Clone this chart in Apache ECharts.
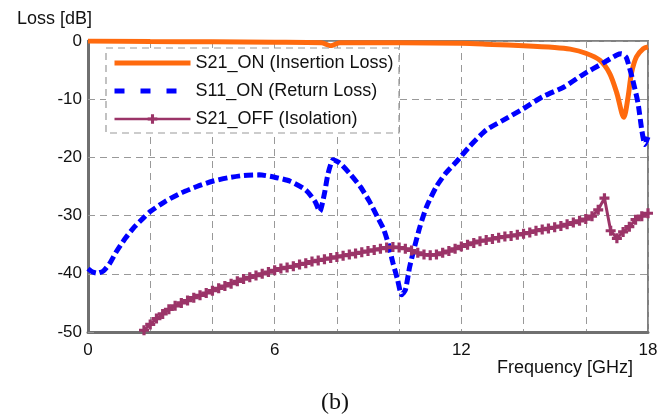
<!DOCTYPE html>
<html>
<head>
<meta charset="utf-8">
<script src="https://cdn.jsdelivr.net/npm/echarts@6/dist/echarts.min.js"></script>
<style>
  html, body { margin: 0; padding: 0; background: #fff; }
  #chart { width: 670px; height: 415px; }
</style>
</head>
<body>
<div id="chart"></div>
<script>
// values: [GHz, dB]
const s21On = [
  [0, 0], [2, -0.1], [4, -0.15], [6, -0.2], [7.5, -0.3], [7.8, -0.8], [8.1, -0.3],
  [10, -0.3], [12, -0.4], [13, -0.6], [14, -0.8], [15, -1.1], [15.5, -1.4],
  [16, -2.1], [16.45, -3.3], [16.77, -5.6], [17, -9], [17.22, -13.1], [17.36, -9.6],
  [17.47, -5.5], [17.63, -2.7], [17.85, -1.3], [18, -1.0]
];
const s11On = [
  [0, -39.1], [0.15, -39.7], [0.3, -39.9], [0.5, -39.5], [0.7, -38.2], [0.9, -36.3],
  [1.2, -33.9], [1.5, -31.9], [1.8, -30.3], [2.0, -29.3], [2.5, -27.5], [3.0, -26.1],
  [3.5, -25.0], [4.0, -24.1], [4.5, -23.5], [5.0, -23.1], [5.5, -23.0], [6.0, -23.4],
  [6.5, -24.1], [7.0, -25.6], [7.3, -27.6], [7.45, -29.3], [7.6, -26.2], [7.72, -22.7],
  [7.88, -20.4], [8.1, -21.0], [8.4, -22.7], [8.75, -25.0], [9.05, -27.6], [9.3, -30.2],
  [9.5, -32.3], [9.65, -34.8], [9.8, -38.1], [9.95, -41.0], [10.08, -43.6], [10.2, -42.8],
  [10.34, -38.8], [10.5, -35.3], [10.67, -31.9], [10.88, -28.5], [11.2, -25.0],
  [11.5, -22.7], [11.85, -20.7], [12.25, -18.2], [12.8, -15.3], [13.35, -13.6],
  [14.0, -11.6], [14.6, -9.6], [15.3, -7.9], [15.9, -5.8], [16.55, -3.8], [17.0, -2.4],
  [17.15, -2.2], [17.3, -2.8], [17.5, -6.5], [17.68, -10.7], [17.8, -15.3],
  [17.9, -17.8], [18.0, -16.5]
];
const s21Off = [
  [1.8, -49.7], [2.0, -48.7], [2.2, -47.7], [2.4, -46.9], [2.6, -46.1], [2.8, -45.5],
  [3.0, -45.0], [3.2, -44.6], [3.4, -44.1], [3.6, -43.7], [3.8, -43.3], [4.0, -42.9],
  [4.2, -42.5], [4.4, -42.1], [4.6, -41.7], [4.8, -41.3], [5.0, -40.9], [5.2, -40.6],
  [5.4, -40.3], [5.6, -40.0], [5.8, -39.7], [6.0, -39.4], [6.2, -39.1], [6.4, -38.9],
  [6.6, -38.7], [6.8, -38.4], [7.0, -38.2], [7.2, -37.9], [7.4, -37.7], [7.6, -37.5],
  [7.8, -37.3], [8.0, -37.1], [8.2, -36.9], [8.4, -36.7], [8.6, -36.5], [8.8, -36.3],
  [9.0, -36.1], [9.2, -35.9], [9.4, -35.7], [9.6, -35.5], [9.8, -35.4], [10.0, -35.5],
  [10.2, -35.7], [10.4, -36.0], [10.6, -36.4], [10.8, -36.7], [11.0, -36.8], [11.2, -36.7],
  [11.4, -36.4], [11.6, -36.1], [11.8, -35.7], [12.0, -35.3], [12.2, -35.0], [12.4, -34.7],
  [12.6, -34.4], [12.8, -34.2], [13.0, -34.0], [13.2, -33.8], [13.4, -33.6], [13.6, -33.5],
  [13.8, -33.3], [14.0, -33.1], [14.2, -32.9], [14.4, -32.6], [14.6, -32.4], [14.8, -32.2],
  [15.0, -32.0], [15.2, -31.8], [15.4, -31.5], [15.6, -31.2], [15.8, -30.9], [16.0, -30.6],
  [16.2, -30.1], [16.4, -29.0], [16.6, -27.0], [16.8, -32.6], [17.0, -33.9], [17.2, -32.8],
  [17.4, -31.9], [17.6, -30.7], [17.8, -30.1], [18.0, -29.6]
];
const seriesNames = ['S21_ON (Insertion Loss)', 'S11_ON (Return Loss)', 'S21_OFF (Isolation)'];
const xLabels = [0, 6, 12, 18];

const font = 'Liberation Sans, Arial, sans-serif';
const plus = 'path://M3.4,0 H6.6 V3.4 H10 V6.6 H6.6 V10 H3.4 V6.6 H0 V3.4 H3.4 Z';

const chart = echarts.init(document.getElementById('chart'));
chart.setOption({
  animation: false,
  title: {
    text: '(b)',
    left: 'center',
    top: 386,
    textStyle: { fontFamily: 'Liberation Serif, Times New Roman, serif', fontSize: 24, fontWeight: 'normal', color: '#111' }
  },
  grid: { left: 88, right: 22, top: 41, bottom: 83, show: true, borderColor: '#808080', borderWidth: 2, backgroundColor: 'transparent' },
  graphic: [{
    type: 'rect',
    z: 3,
    shape: { x: 106, y: 48, width: 293, height: 85 },
    style: { fill: '#fff', stroke: '#999', lineWidth: 1.2, lineDash: [7, 5] }
  }],
  legend: {
    orient: 'vertical',
    left: 107,
    top: 49,
    z: 5,
    itemWidth: 76,
    itemHeight: 12,
    itemGap: 10,
    textStyle: { fontFamily: font, fontSize: 18, color: '#111' },
    data: [
      { name: seriesNames[0], itemStyle: { opacity: 0 }, lineStyle: { width: 5 } },
      { name: seriesNames[1], itemStyle: { opacity: 0 }, lineStyle: { width: 5, type: [10, 16] } },
      { name: seriesNames[2], lineStyle: { width: 2.5 } }
    ]
  },
  xAxis: {
    type: 'value',
    min: 0,
    max: 18,
    interval: 2,
    name: 'Frequency [GHz]',
    nameLocation: 'end',
    nameGap: -15,
    nameTextStyle: { fontFamily: font, fontSize: 18, color: '#111', align: 'right', verticalAlign: 'top', padding: [27, 0, 0, 0] },
    axisLine: { onZero: false, lineStyle: { color: '#707070', width: 3 } },
    axisTick: { show: false },
    axisLabel: {
      fontFamily: font, fontSize: 17, color: '#111', margin: 10,
      formatter: v => (xLabels.includes(v) ? String(v) : '')
    },
    splitLine: { lineStyle: { color: '#999', type: [7, 5], width: 1 } }
  },
  yAxis: {
    type: 'value',
    min: -50,
    max: 0,
    interval: 10,
    name: 'Loss [dB]',
    nameLocation: 'end',
    nameGap: 13,
    nameTextStyle: { fontFamily: font, fontSize: 18, color: '#111', align: 'right', padding: [0, -4, 0, 0] },
    axisLine: { show: true, onZero: false, lineStyle: { color: '#707070', width: 3 } },
    axisTick: { show: true, inside: true, length: 6, lineStyle: { color: '#999' } },
    axisLabel: { fontFamily: font, fontSize: 17, color: '#111', margin: 6 },
    splitLine: { lineStyle: { color: '#999', type: [7, 5], width: 1 } }
  },
  series: [
    {
      name: seriesNames[0],
      type: 'line',
      data: s21On,
      smooth: 0.3,
      showSymbol: false,
      symbol: 'none',
      z: 2,
      lineStyle: { color: '#ff6a0e', width: 5 },
      itemStyle: { color: '#ff6a0e' }
    },
    {
      name: seriesNames[1],
      type: 'line',
      data: s11On,
      smooth: 0.2,
      showSymbol: false,
      symbol: 'none',
      z: 3,
      lineStyle: { color: '#0000ff', width: 5, type: [9, 4] },
      itemStyle: { color: '#0000ff' }
    },
    {
      name: seriesNames[2],
      type: 'line',
      data: s21Off,
      symbol: plus,
      symbolSize: 10,
      showSymbol: true,
      z: 4,
      lineStyle: { color: '#9b3468', width: 3 },
      itemStyle: { color: '#9b3468' }
    }
  ]
});
</script>
</body>
</html>
